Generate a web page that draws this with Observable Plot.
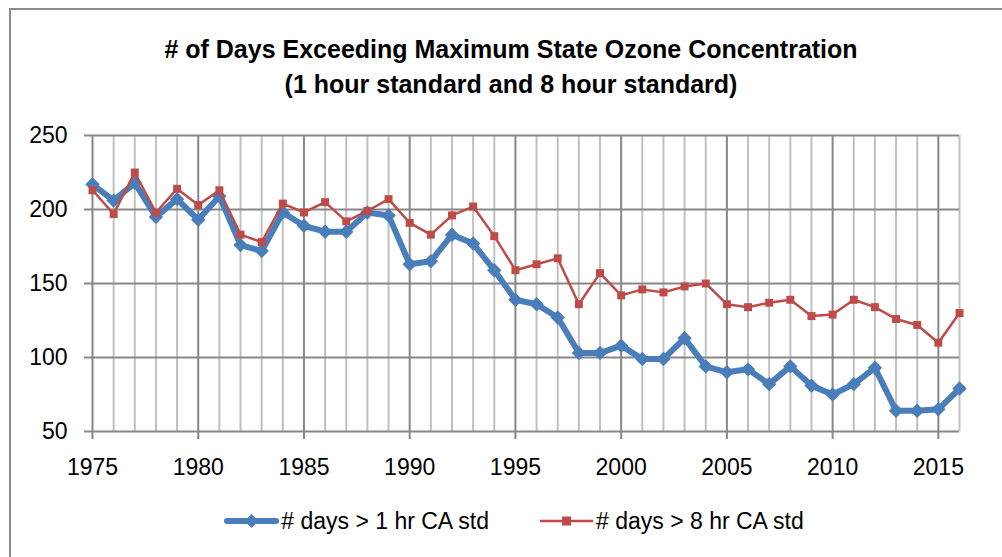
<!DOCTYPE html>
<html><head><meta charset="utf-8">
<script src="https://cdn.jsdelivr.net/npm/d3@7"></script>
<script src="https://cdn.jsdelivr.net/npm/@observablehq/plot@0.6"></script>
<style>
html,body{margin:0;padding:0;background:#fff;}
#wrap{position:relative;width:1002px;height:557px;overflow:hidden;font-family:"Liberation Sans",Arial,sans-serif;background:#fff;}
#frame{position:absolute;left:9px;top:8px;width:1100px;height:700px;border-left:2px solid #8c8c8c;border-top:2px solid #8c8c8c;box-sizing:border-box;z-index:5;pointer-events:none;}
#title{position:absolute;left:0;width:1022px;top:32px;text-align:center;font-weight:bold;font-size:25px;line-height:35px;color:#000;}
#chart{position:absolute;left:0;top:115px;}
#legend{position:absolute;left:13px;width:1002px;top:506px;height:30px;display:flex;justify-content:center;align-items:center;font-size:23px;color:#000;}
.item{display:flex;align-items:center;margin:0 25px;}
.item svg{margin-right:2px;}
</style>
</head><body>
<div id="wrap">
  <div id="title"># of Days Exceeding Maximum State Ozone Concentration<br>(1 hour standard and 8 hour standard)</div>
  <div id="chart"></div>
  <div id="legend"></div>
  <div id="frame"></div>
</div>
<script>
const years = [1975,1976,1977,1978,1979,1980,1981,1982,1983,1984,1985,1986,1987,1988,1989,1990,1991,1992,1993,1994,1995,1996,1997,1998,1999,2000,2001,2002,2003,2004,2005,2006,2007,2008,2009,2010,2011,2012,2013,2014,2015,2016];
const days1hr = [217,206,218,195,207,193,209,176,172,198,189,185,185,198,196,163,165,183,177,159,139,136,127,103,103,108,99,99,113,94,90,92,82,94,81,75,82,93,64,64,65,79];
const days8hr = [213,197,225,198,214,203,213,183,178,204,198,205,192,199,207,191,183,196,202,182,159,163,167,136,157,142,146,144,148,150,136,134,137,139,128,129,139,134,126,122,110,130];
const seriesNames = ["# days > 1 hr CA std", "# days > 8 hr CA std"];
const xTicks = [1975,1980,1985,1990,1995,2000,2005,2010,2015];
const yTicks = [50,100,150,200,250];

const blue = "#4a7ebb", red = "#be4b48";
const d1 = years.map((y,i)=>({year:y, value:days1hr[i]}));
const d2 = years.map((y,i)=>({year:y, value:days8hr[i]}));
const minorYears = years.filter(y=>!xTicks.includes(y));

const chart = Plot.plot({
  width:1002, height:375,
  marginLeft:92, marginRight:43, marginTop:20, marginBottom:59,
  style:{fontFamily:"Liberation Sans, Arial, sans-serif", fontSize:"23px", color:"#000", background:"transparent", overflow:"visible"},
  x:{domain:[1975,2016]},
  y:{domain:[50,250]},
  marks:[
    Plot.ruleX(minorYears, {stroke:"#c0c0c0", strokeWidth:2}),
    Plot.ruleX(xTicks, {stroke:"#878787", strokeWidth:2}),
    Plot.ruleY(yTicks, {stroke:"#878787", strokeWidth:2, insetLeft:-8}),
    Plot.axisX({ticks:xTicks, tickSize:8, tickPadding:19, tickFormat:d=>String(d), stroke:"#878787", strokeWidth:2, fill:"#000", label:null}),
    Plot.axisY({ticks:yTicks, tickSize:0, tickPadding:25, tickFormat:d=>String(d), fill:"#000", label:null}),
    Plot.line(d1, {x:"year", y:"value", stroke:blue, strokeWidth:6, strokeLinejoin:"round"}),
    Plot.dot(d1, {x:"year", y:"value", symbol:"diamond2", r:6.5, fill:blue, stroke:null}),
    Plot.line(d2, {x:"year", y:"value", stroke:red, strokeWidth:2.5, strokeLinejoin:"round"}),
    Plot.dot(d2, {x:"year", y:"value", symbol:"square", r:4.5, fill:red, stroke:null})
  ]
});
document.getElementById("chart").appendChild(chart);

const legend = document.getElementById("legend");
const sw = [
  `<svg width="55" height="16"><line x1="3" y1="8" x2="52" y2="8" stroke="${blue}" stroke-width="6" stroke-linecap="round"/><path d="M27.5,1 L34.5,8 L27.5,15 L20.5,8 Z" fill="${blue}"/></svg>`,
  `<svg width="55" height="16"><line x1="1" y1="8" x2="54" y2="8" stroke="${red}" stroke-width="2.5"/><rect x="23" y="3.5" width="9" height="9" fill="${red}"/></svg>`
];
seriesNames.forEach((n,i)=>{
  const d = document.createElement("div");
  d.className = "item";
  d.innerHTML = sw[i] + `<span>${n}</span>`;
  legend.appendChild(d);
});
</script>
</body></html>
